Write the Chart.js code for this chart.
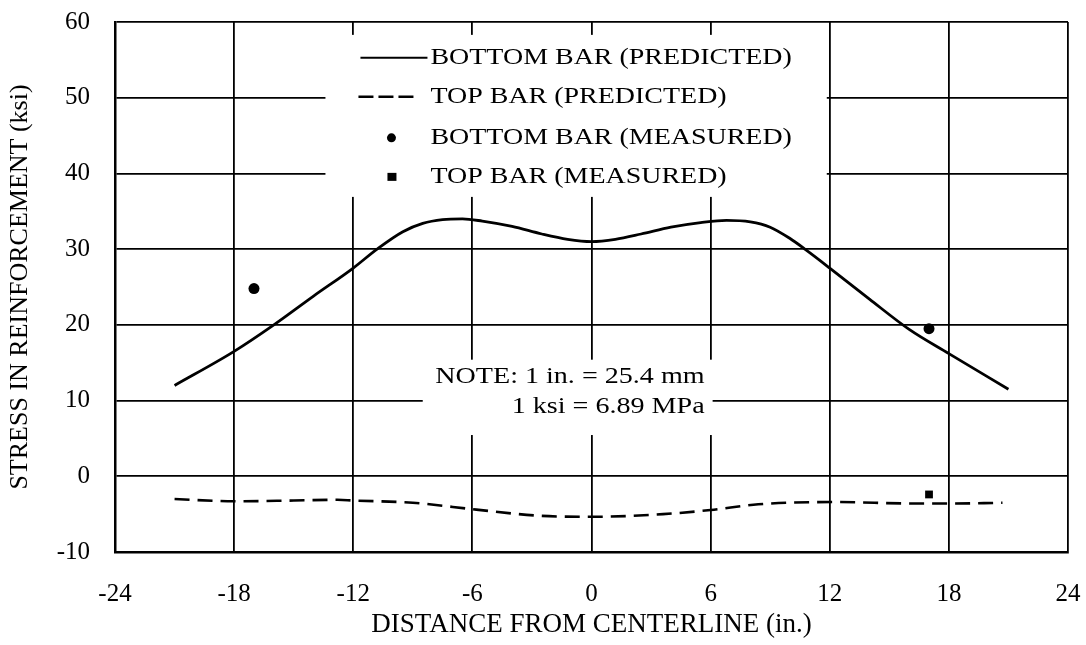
<!DOCTYPE html>
<html>
<head>
<meta charset="utf-8">
<script src="https://cdn.jsdelivr.net/npm/chart.js"></script>
<style>
  html, body { margin: 0; padding: 0; background: #fff; }
</style>
</head>
<body>
<canvas id="chart" width="1086" height="645"></canvas>
<script>
// Valores (distancia en pulgadas, esfuerzo en ksi)
const bottomPredX = [-21, -18, -16, -14, -12, -10.8, -9.5, -8.5, -7.5, -6.5, -5.5, -4, -2.5, -1.2, 0, 1.2, 2.5, 4, 5.5, 6.8, 8, 9, 10, 10.8, 12, 14, 16, 18, 21];
const bottomPredY = [12, 16.5, 20, 23.8, 27.5, 30, 32.3, 33.4, 33.9, 34.0, 33.7, 33.0, 32.0, 31.3, 31.0, 31.3, 32.0, 32.9, 33.5, 33.8, 33.6, 32.9, 31.4, 29.9, 27.5, 23.4, 19.4, 16.2, 11.5];

const topPredX = [-21, -18, -15, -12.8, -12, -9, -5.8, -2.7, 0, 3.6, 6, 8.4, 12.2, 16.3, 18, 20.7];
const topPredY = [-3.0, -3.3, -3.2, -3.1, -3.2, -3.5, -4.4, -5.2, -5.35, -5.0, -4.45, -3.7, -3.4, -3.6, -3.6, -3.5];

const bottomMeasX = [-17, 17];
const bottomMeasY = [24.8, 19.5];

const topMeasX = [17];
const topMeasY = [-2.4];

const legendLabels = ['BOTTOM BAR (PREDICTED)', 'TOP BAR (PREDICTED)', 'BOTTOM BAR (MEASURED)', 'TOP BAR (MEASURED)'];
const noteLines = ['NOTE: 1 in. = 25.4 mm', '1 ksi = 6.89 MPa'];

const xTitle = 'DISTANCE FROM CENTERLINE (in.)';
const yTitle = 'STRESS IN REINFORCEMENT (ksi)';

function toPoints(xs, ys) {
    return xs.map((v, i) => ({ x: v, y: ys[i] }));
}

const serif = '"Liberation Serif", "Times New Roman", serif';

// Texto estirado horizontalmente como en el original
function stretchText(ctx, str, x, y, sx, align) {
    ctx.save();
    ctx.translate(x, y);
    ctx.scale(sx, 1);
    ctx.textAlign = align;
    ctx.textBaseline = 'middle';
    ctx.fillText(str, 0, 0);
    ctx.restore();
}

// Cajas blancas (leyenda y nota) en unidades de datos: [x0, x1, y0, y1]
const legendBox = [-13.4, 11.85, 36.9, 58.3];
const noteBox = [-8.5, 6.1, 5.45, 15.4];

const overlayPlugin = {
    id: 'overlay',
    beforeDatasetsDraw(chart) {
        const { ctx, scales: { x, y } } = chart;
        ctx.save();
        ctx.fillStyle = '#fff';
        [legendBox, noteBox].forEach(b => {
            const l = x.getPixelForValue(b[0]);
            const r = x.getPixelForValue(b[1]);
            const t = y.getPixelForValue(b[3]);
            const bt = y.getPixelForValue(b[2]);
            ctx.fillRect(l, t, r - l, bt - t);
        });

        // Leyenda
        const lx = x.getPixelForValue(legendBox[0]);
        const ly = y.getPixelForValue(legendBox[3]);
        const rows = [23, 62, 103, 142];
        ctx.strokeStyle = '#000';
        ctx.fillStyle = '#000';

        ctx.lineWidth = 2;
        ctx.setLineDash([]);
        ctx.beginPath();
        ctx.moveTo(lx + 35, ly + rows[0]);
        ctx.lineTo(lx + 102, ly + rows[0]);
        ctx.stroke();

        ctx.lineWidth = 2.5;
        ctx.setLineDash([15, 5]);
        ctx.beginPath();
        ctx.moveTo(lx + 33, ly + rows[1]);
        ctx.lineTo(lx + 88, ly + rows[1]);
        ctx.stroke();
        ctx.setLineDash([]);

        ctx.beginPath();
        ctx.arc(lx + 66, ly + rows[2], 4.5, 0, Math.PI * 2);
        ctx.fill();
        ctx.fillRect(lx + 62, ly + rows[3] - 4, 9, 8);

        ctx.font = '24px ' + serif;
        legendLabels.forEach((t, i) => {
            stretchText(ctx, t, lx + 105, ly + rows[i], 1.165, 'left');
        });

        // Nota
        const nr = x.getPixelForValue(noteBox[1]) - 8;
        const nt = y.getPixelForValue(noteBox[3]);
        stretchText(ctx, noteLines[0], nr, nt + 17, 1.17, 'right');
        stretchText(ctx, noteLines[1], nr, nt + 47, 1.17, 'right');
        ctx.restore();
    }
};

const ctx = document.getElementById('chart');
new Chart(ctx, {
    type: 'scatter',
    data: {
        datasets: [
            {
                label: legendLabels[0],
                data: toPoints(bottomPredX, bottomPredY),
                showLine: true,
                borderColor: '#000',
                borderWidth: 2.8,
                pointRadius: 0,
                cubicInterpolationMode: 'monotone'
            },
            {
                label: legendLabels[1],
                data: toPoints(topPredX, topPredY),
                showLine: true,
                borderColor: '#000',
                borderWidth: 2.6,
                borderDash: [15, 8],
                pointRadius: 0,
                cubicInterpolationMode: 'monotone'
            },
            {
                label: legendLabels[2],
                data: toPoints(bottomMeasX, bottomMeasY),
                pointStyle: 'circle',
                pointRadius: 5.5,
                backgroundColor: '#000',
                borderColor: '#000',
                borderWidth: 0
            },
            {
                label: legendLabels[3],
                data: toPoints(topMeasX, topMeasY),
                pointStyle: 'rect',
                pointRadius: 5.5,
                backgroundColor: '#000',
                borderColor: '#000',
                borderWidth: 0
            }
        ]
    },
    options: {
        responsive: false,
        animation: false,
        layout: { padding: { left: 0, right: 18, top: 22, bottom: 0 } },
        plugins: {
            legend: { display: false },
            tooltip: { enabled: false }
        },
        scales: {
            x: {
                type: 'linear',
                min: -24,
                max: 24,
                afterFit(scale) {
                    scale.height = 93;
                    scale.paddingLeft = 0;
                    scale.paddingRight = 0;
                },
                ticks: {
                    stepSize: 6,
                    padding: 27,
                    color: '#000',
                    font: { family: serif, size: 25 }
                },
                grid: { color: '#000', lineWidth: 1.8, drawTicks: false },
                border: { display: true, color: '#000', width: 2.5 },
                title: {
                    display: true,
                    text: xTitle,
                    color: '#000',
                    font: { family: serif, size: 27 },
                    padding: { top: 0, bottom: 4 }
                }
            },
            y: {
                type: 'linear',
                min: -10,
                max: 60,
                afterFit(scale) {
                    scale.width = 115;
                    scale.paddingTop = 0;
                    scale.paddingBottom = 0;
                },
                ticks: {
                    stepSize: 10,
                    padding: 25,
                    color: '#000',
                    font: { family: serif, size: 25 }
                },
                grid: { color: '#000', lineWidth: 1.8, drawTicks: false },
                border: { display: true, color: '#000', width: 2.5 },
                title: {
                    display: true,
                    text: yTitle,
                    color: '#000',
                    font: { family: serif, size: 26 },
                    padding: { top: 5, bottom: 0 }
                }
            }
        }
    },
    plugins: [overlayPlugin]
});
</script>
</body>
</html>
